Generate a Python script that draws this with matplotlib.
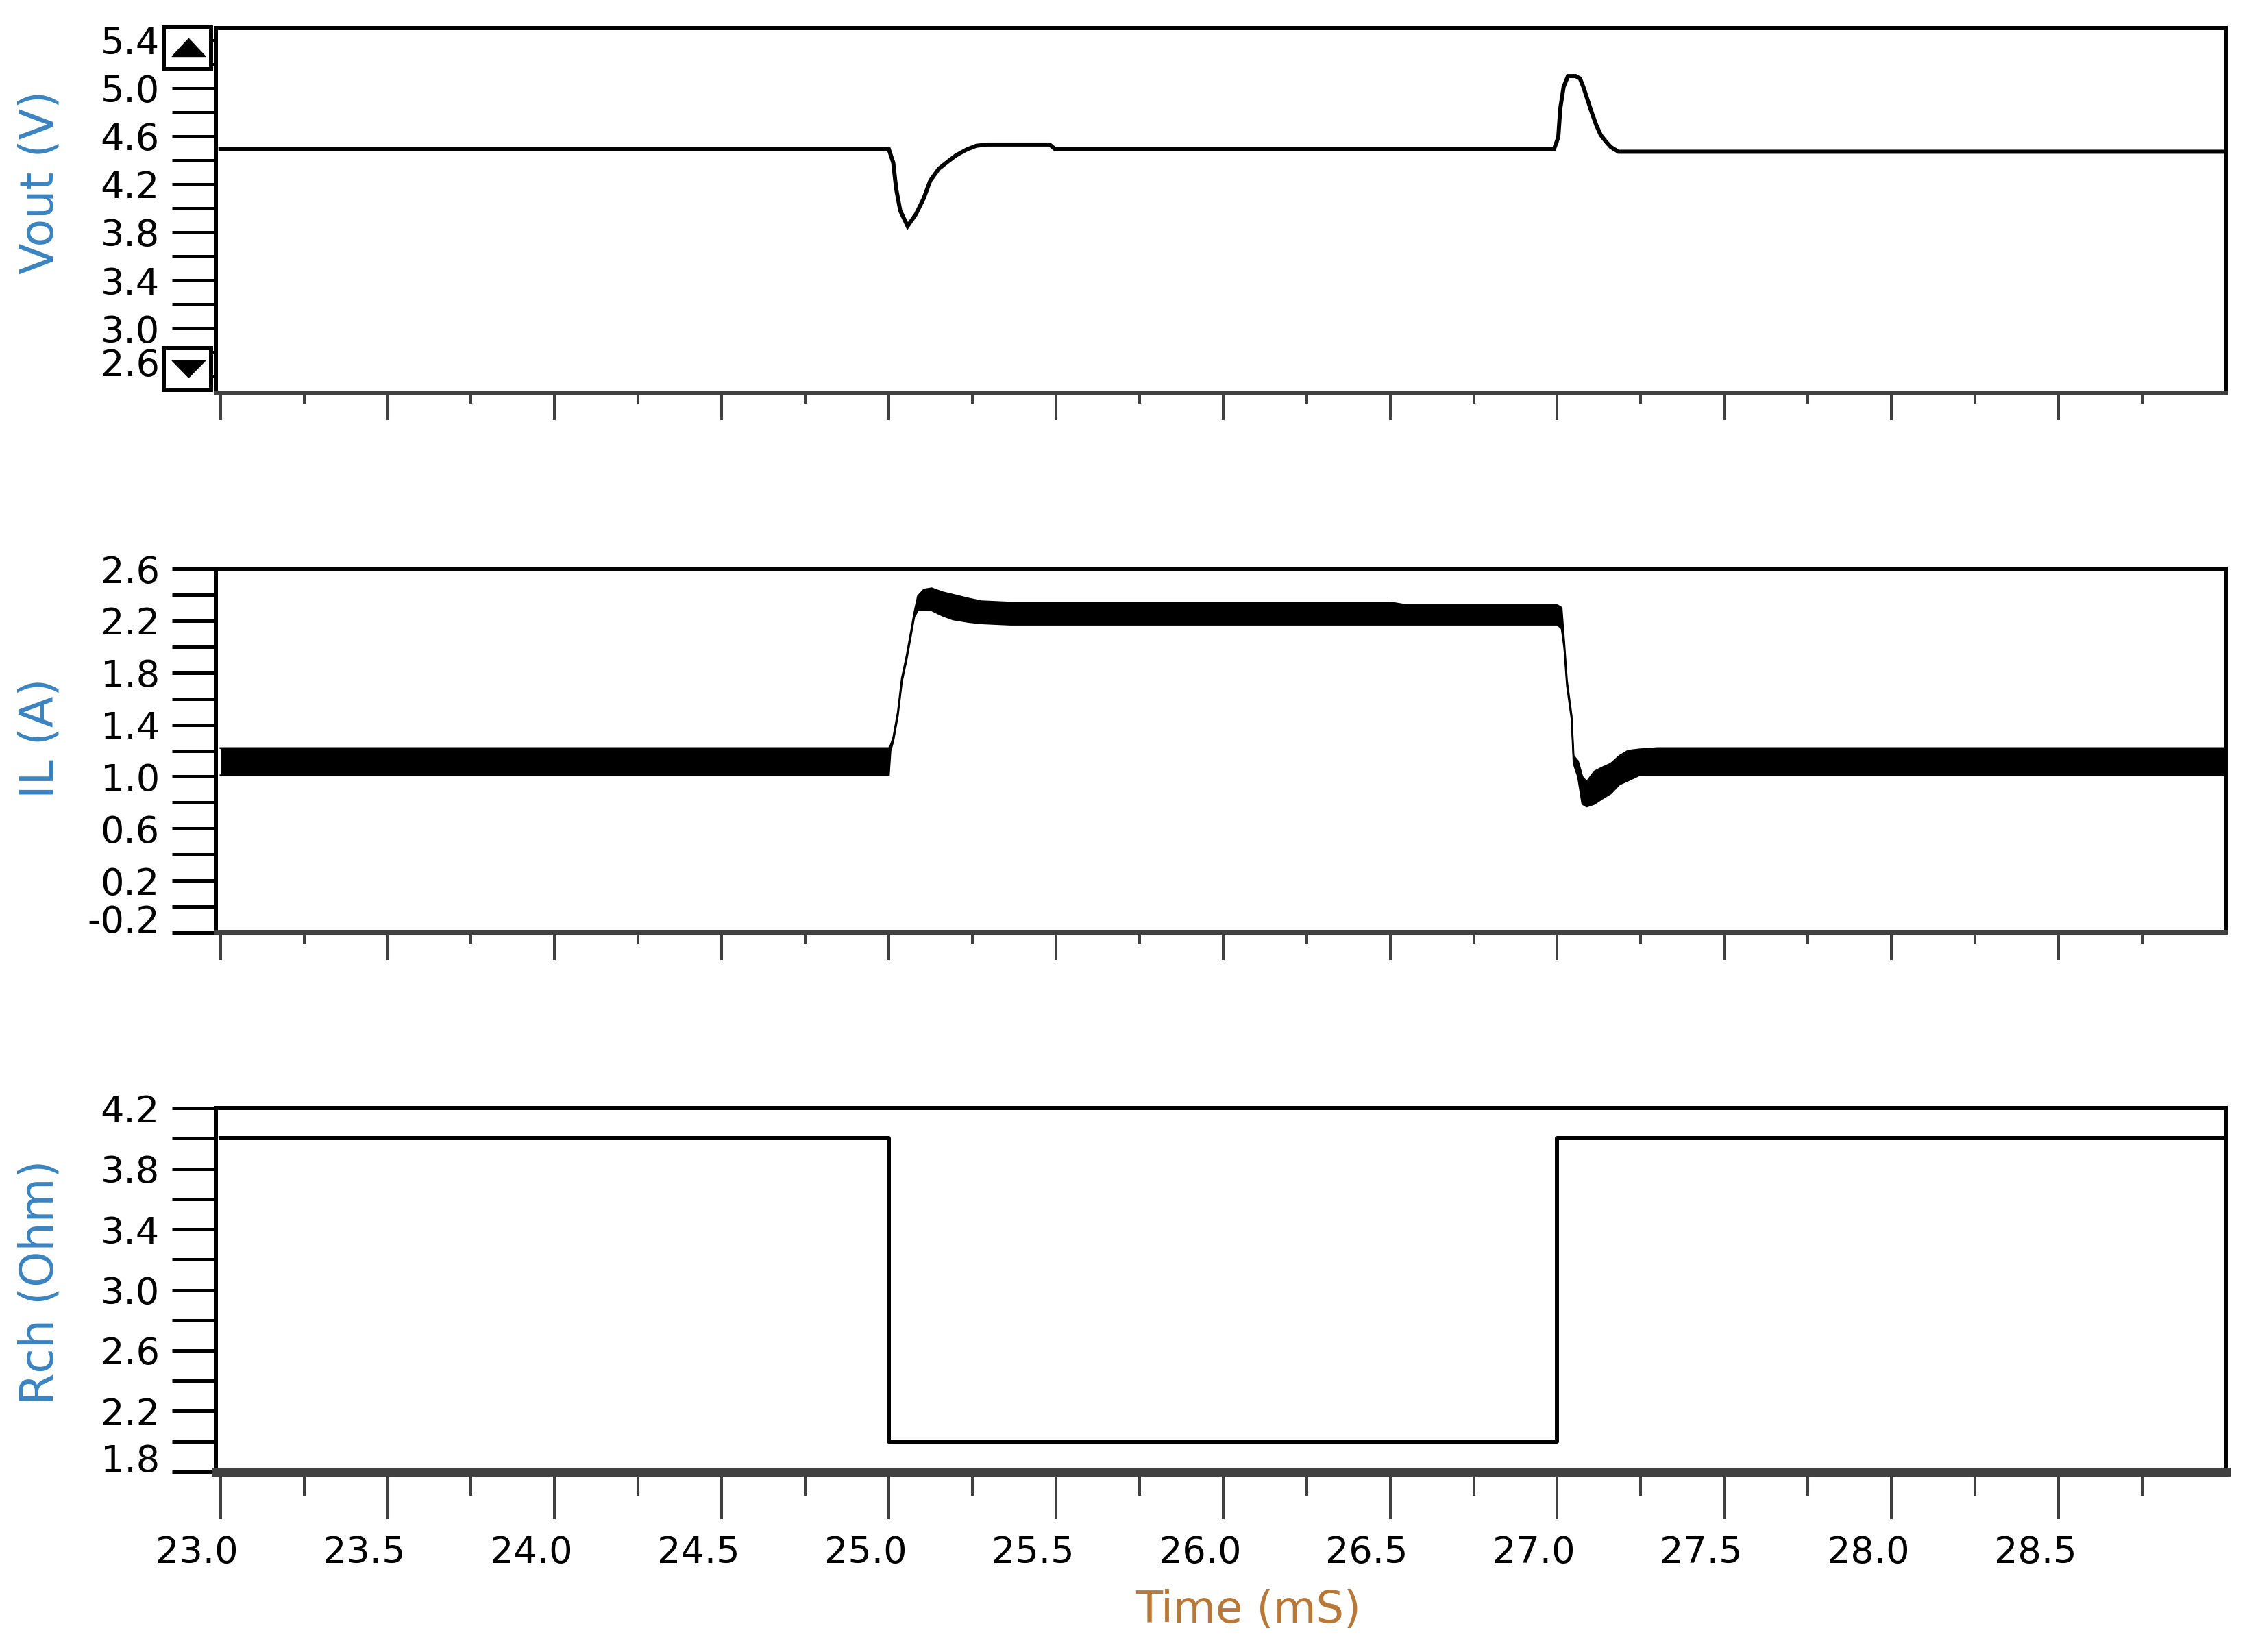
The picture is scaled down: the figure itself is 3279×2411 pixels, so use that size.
import matplotlib.pyplot as plt
from matplotlib.patches import Rectangle, Polygon
from matplotlib.transforms import ScaledTranslation

# ===== ДАННЫЕ (время в мс) =====
vout_t = [23.000, 25.000, 25.013, 25.022, 25.034, 25.056, 25.081, 25.104, 25.124, 25.150,
          25.175, 25.201, 25.234, 25.262, 25.294, 25.481, 25.498, 26.990, 27.003, 27.009,
          27.019, 27.032, 27.055, 27.068, 27.078, 27.091, 27.104, 27.117, 27.130, 27.144,
          27.160, 27.183, 29.000]
vout_v = [4.49, 4.49, 4.38, 4.16, 3.98, 3.85, 3.95, 4.08, 4.23, 4.33,
          4.385, 4.44, 4.49, 4.52, 4.53, 4.53, 4.49, 4.49, 4.59, 4.83,
          5.01, 5.10, 5.10, 5.08, 5.01, 4.90, 4.79, 4.69, 4.61, 4.56,
          4.51, 4.47, 4.47]

# ток дросселя: нижняя и верхняя огибающая пульсаций
il_t = [23.000, 25.000, 25.005, 25.013, 25.027, 25.039, 25.053, 25.065, 25.076, 25.087,
        25.105, 25.128, 25.160, 25.192, 25.240, 25.277, 25.362, 26.502, 26.550, 27.000,
        27.013, 27.021, 27.029, 27.043, 27.049, 27.062, 27.075, 27.088, 27.111, 27.134,
        27.160, 27.186, 27.212, 27.245, 27.300, 29.000]
il_lo = [1.01, 1.01, 1.20, 1.27, 1.47, 1.73, 1.90, 2.07, 2.23, 2.28,
         2.28, 2.28, 2.24, 2.21, 2.19, 2.18, 2.17, 2.17, 2.17, 2.17,
         2.14, 1.99, 1.70, 1.44, 1.10, 1.00, 0.79, 0.77, 0.79, 0.83,
         0.87, 0.94, 0.97, 1.01, 1.01, 1.01]
il_hi = [1.22, 1.22, 1.24, 1.30, 1.50, 1.76, 1.93, 2.10, 2.26, 2.39,
         2.44, 2.45, 2.42, 2.40, 2.37, 2.35, 2.34, 2.34, 2.32, 2.32,
         2.30, 2.03, 1.74, 1.47, 1.16, 1.12, 1.00, 0.96, 1.04, 1.07,
         1.10, 1.16, 1.20, 1.21, 1.22, 1.22]

rch_t = [23.0, 25.0, 27.0, 29.0]
rch_r = [4.0, 2.0, 4.0, 4.0]

x_major = [23.0, 23.5, 24.0, 24.5, 25.0, 25.5, 26.0, 26.5, 27.0, 27.5, 28.0, 28.5]
x_minor = [23.25, 23.75, 24.25, 24.75, 25.25, 25.75, 26.25, 26.75, 27.25, 27.75, 28.25, 28.75]

vout_major = [2.6, 3.0, 3.4, 3.8, 4.2, 4.6, 5.0, 5.4]
vout_minor = [2.8, 3.2, 3.6, 4.0, 4.4, 4.8, 5.2]
il_major = [-0.2, 0.2, 0.6, 1.0, 1.4, 1.8, 2.2, 2.6]
il_minor = [0.0, 0.4, 0.8, 1.2, 1.6, 2.0, 2.4]
rch_major = [1.8, 2.2, 2.6, 3.0, 3.4, 3.8, 4.2]
rch_minor = [2.0, 2.4, 2.8, 3.2, 3.6, 4.0]

# ===== ОФОРМЛЕНИЕ =====
plt.rcParams['font.family'] = ['DejaVu Sans']
GRAY = '#404040'
YLAB_COLOR = '#3a84c0'
XLAB_COLOR = '#b87838'

fig = plt.figure(figsize=(32.8, 24.11), dpi=100)

left, width = 0.0960, 0.8942
ax1 = fig.add_axes([left, 0.7623, width, 0.2207])
ax2 = fig.add_axes([left, 0.4355, width, 0.2202])
ax3 = fig.add_axes([left, 0.1091, width, 0.2202])


def style_axis(ax, ymaj, ymin, ylim, bottom_lw, xmaj_len, xmin_len, show_x):
    ax.set_xlim(22.986, 29.0)
    ax.set_ylim(*ylim)
    for side in ['left', 'top', 'right']:
        ax.spines[side].set_linewidth(4.3)
        ax.spines[side].set_color('black')
    ax.spines['bottom'].set_linewidth(bottom_lw)
    ax.spines['bottom'].set_color(GRAY)

    ax.set_yticks(ymaj)
    ax.set_yticks(ymin, minor=True)
    ax.set_yticklabels([f"{v:.1f}" for v in ymaj])
    ax.tick_params(axis='y', which='both', direction='out', length=46, width=3.6,
                   color='black', pad=13, labelsize=39)

    ax.set_xticks(x_major)
    ax.set_xticks(x_minor, minor=True)
    ax.set_xticklabels([f"{v:.1f}" for v in x_major])
    ax.tick_params(axis='x', which='major', direction='out', length=xmaj_len, width=2.9,
                   color=GRAY, pad=16, labelsize=39, labelbottom=show_x)
    ax.tick_params(axis='x', which='minor', direction='out', length=xmin_len, width=2.9,
                   color=GRAY)

    # нижняя подпись оси стоит над своим делением
    ax.yaxis.get_major_ticks()[0].label1.set_verticalalignment('baseline')


style_axis(ax1, vout_major, vout_minor, (2.463, 5.5), 4.3, 29, 11.5, False)
style_axis(ax2, il_major, il_minor, (-0.2, 2.6), 4.3, 29, 11.5, False)
style_axis(ax3, rch_major, rch_minor, (1.8, 4.2), 9.4, 50, 25, True)

# подписи времени чуть сдвинуты влево от делений
shift = ScaledTranslation(-0.34, 0, fig.dpi_scale_trans)
for lab in ax3.get_xticklabels():
    lab.set_transform(lab.get_transform() + shift)

# кривые
ax1.plot(vout_t, vout_v, color='black', lw=4.3, solid_joinstyle='miter')

ax2.fill_between(il_t, il_lo, il_hi, color='black', lw=0)
ax2.plot(il_t, il_lo, color='black', lw=1.8)
ax2.plot(il_t, il_hi, color='black', lw=1.8)

ax3.plot(rch_t, rch_r, color='black', lw=4.3, drawstyle='steps-post')

# кнопки прокрутки на оси Vout
for y0, tri in [(0.888, [(-0.0218, 0.922), (-0.0051, 0.922), (-0.01345, 0.971)]),
                (0.0075, [(-0.0218, 0.0884), (-0.0051, 0.0884), (-0.01345, 0.0414)])]:
    ax1.add_patch(Rectangle((-0.0259, y0), 0.0235, 0.1145, transform=ax1.transAxes,
                            facecolor='white', edgecolor='black', lw=4.3,
                            clip_on=False, zorder=10))
    ax1.add_patch(Polygon(tri, closed=True, transform=ax1.transAxes,
                          facecolor='black', edgecolor='black', lw=1,
                          clip_on=False, zorder=11))

# подписи осей
fig.text(0.0177, 0.8897, "Vout (V)", rotation=90, ha='center', va='center',
         fontsize=48, color=YLAB_COLOR)
fig.text(0.0177, 0.5533, "IL (A)", rotation=90, ha='center', va='center',
         fontsize=48, color=YLAB_COLOR)
fig.text(0.0177, 0.2240, "Rch (Ohm)", rotation=90, ha='center', va='center',
         fontsize=48, color=YLAB_COLOR)
fig.text(0.5555, 0.0253, "Time (mS)", ha='center', va='center',
         fontsize=46, color=XLAB_COLOR)

fig.savefig('out.png', dpi=100)
